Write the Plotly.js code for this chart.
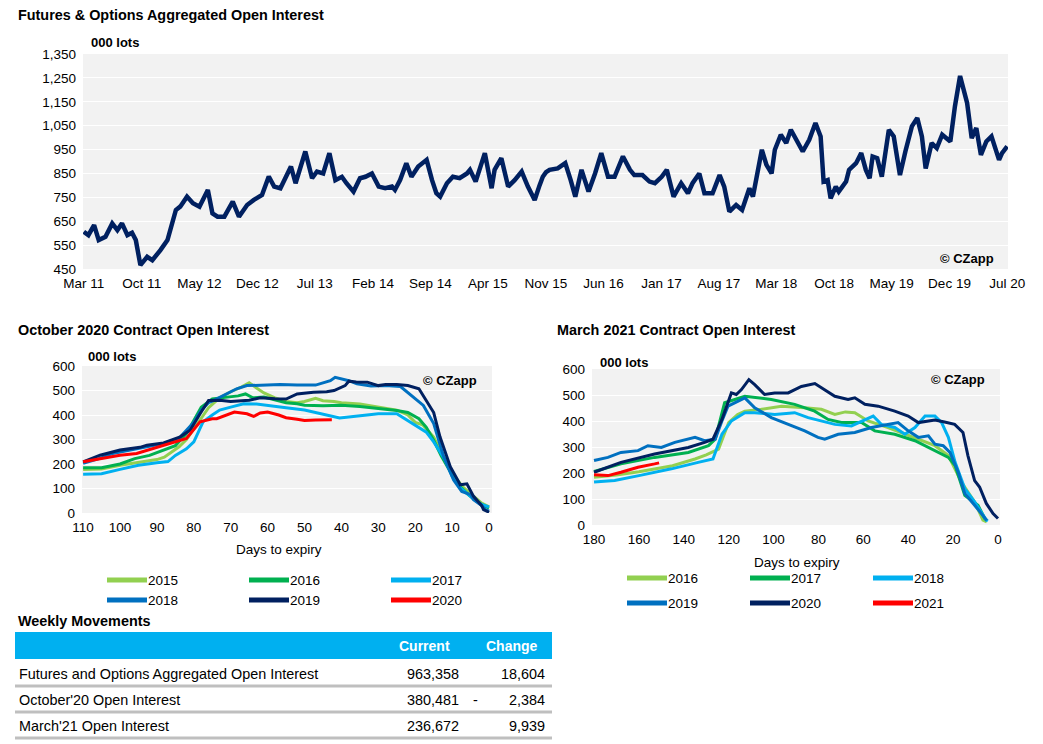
<!DOCTYPE html>
<html>
<head>
<meta charset="utf-8">
<script src="https://cdn.plot.ly/plotly-3.0.1.min.js"></script>
<style>
html,body{margin:0;padding:0;background:#fff;}
#chart{width:1043px;height:744px;}
</style>
</head>
<body>
<div id="chart"></div>
<script>
// ---------- DATA ----------
const topDates = ["2011-03-01","2011-03-18","2011-04-08","2011-04-25","2011-05-20","2011-06-14","2011-07-03","2011-07-20","2011-08-09","2011-08-26","2011-09-09","2011-09-26","2011-10-21","2011-11-09","2011-12-09","2012-01-04","2012-02-04","2012-02-20","2012-03-16","2012-04-07","2012-05-01","2012-06-01","2012-06-18","2012-07-07","2012-08-01","2012-09-01","2012-09-24","2012-10-24","2012-11-18","2012-12-18","2013-01-12","2013-02-01","2013-02-24","2013-04-04","2013-04-21","2013-05-27","2013-06-21","2013-07-09","2013-08-01","2013-08-24","2013-09-15","2013-10-09","2013-10-26","2013-11-21","2013-12-15","2014-01-04","2014-01-28","2014-02-22","2014-03-18","2014-04-12","2014-04-23","2014-05-12","2014-06-04","2014-06-23","2014-07-18","2014-08-18","2014-09-07","2014-09-23","2014-10-07","2014-11-01","2014-11-23","2014-12-18","2015-01-14","2015-01-25","2015-02-15","2015-03-04","2015-03-21","2015-04-15","2015-04-26","2015-05-21","2015-06-15","2015-07-09","2015-08-04","2015-08-27","2015-09-21","2015-10-09","2015-10-21","2015-11-02","2015-11-15","2015-12-15","2016-01-12","2016-02-01","2016-02-18","2016-03-12","2016-04-07","2016-05-01","2016-05-24","2016-06-18","2016-07-12","2016-08-12","2016-09-07","2016-09-23","2016-10-23","2016-11-18","2016-12-08","2017-01-02","2017-01-21","2017-02-15","2017-03-15","2017-04-09","2017-04-26","2017-05-21","2017-06-09","2017-07-09","2017-08-04","2017-08-21","2017-09-09","2017-10-04","2017-10-26","2017-11-22","2017-12-05","2018-01-07","2018-01-24","2018-02-12","2018-02-24","2018-03-18","2018-04-07","2018-04-24","2018-05-12","2018-06-07","2018-07-01","2018-07-24","2018-08-12","2018-08-23","2018-09-07","2018-09-18","2018-10-07","2018-10-18","2018-11-14","2018-11-25","2018-12-21","2019-01-09","2019-01-26","2019-02-09","2019-02-20","2019-03-09","2019-03-26","2019-04-21","2019-05-09","2019-06-01","2019-06-21","2019-07-15","2019-08-04","2019-08-21","2019-09-04","2019-09-26","2019-10-15","2019-11-04","2019-12-04","2019-12-21","2020-01-09","2020-02-04","2020-02-21","2020-03-09","2020-03-26","2020-04-15","2020-05-04","2020-06-01","2020-06-12","2020-07-01"];
const topValues = [606,592,634,571,585,641,613,641,592,602,571,466,501,487,529,571,697,711,753,725,711,781,683,669,669,732,669,718,739,760,837,795,788,879,809,942,830,858,850,935,822,836,809,774,830,836,850,795,788,795,781,822,893,836,879,907,822,767,753,809,836,830,850,865,816,879,935,788,865,914,795,822,858,795,739,800,836,855,865,871,893,822,753,865,774,850,935,836,836,921,865,843,843,816,809,836,865,753,809,767,809,850,767,767,843,795,690,718,697,788,753,949,886,850,949,1012,977,1033,998,942,991,1061,1005,816,822,746,795,774,816,865,893,935,865,830,921,914,836,1033,1005,843,942,1047,1082,1005,871,977,956,1012,984,1131,1258,1145,998,1040,928,984,1005,907,935,963];
const topTickDates = ["2011-03-01","2011-10-01","2012-05-01","2012-12-01","2013-07-01","2014-02-01","2014-09-01","2015-04-01","2015-11-01","2016-06-01","2017-01-01","2017-08-01","2018-03-01","2018-10-01","2019-05-01","2019-12-01","2020-07-01"];
const topTickLabels = ["Mar 11","Oct 11","May 12","Dec 12","Jul 13","Feb 14","Sep 14","Apr 15","Nov 15","Jun 16","Jan 17","Aug 17","Mar 18","Oct 18","May 19","Dec 19","Jul 20"];

// October 2020 contract (days to expiry)
const oct2015Days = [110,105,100,95,90,88,86,84,82,80,78,76,73,70,67,65,63,61,58,55,52,50,47,45,42,40,35,30,25,22,20,18,15,13,10,7,4,2,0];
const oct2015Vals = [178,180,195,208,218,228,250,270,300,345,390,430,470,495,515,532,510,490,470,455,450,455,468,458,455,450,445,432,420,400,370,360,310,250,160,105,65,40,25];
const oct2016Days = [110,105,100,96,92,88,85,82,80,78,75,72,68,66,64,61,58,55,52,50,45,40,35,30,25,22,19,17,15,13,10,8,6,4,2,0];
const oct2016Vals = [185,185,200,222,235,258,275,324,380,432,466,470,478,486,470,473,460,450,446,440,438,440,435,428,418,410,385,350,297,235,155,110,80,55,35,20];
const oct2017Days = [110,105,100,95,90,87,85,82,80,77.5,75,73,70,66.5,63,60,57,55,50,47.5,44,40.5,38,34,30,25,21.5,19,17,15,12,10,8,6,4,2,0];
const oct2017Vals = [158,160,178,195,205,210,235,262,290,372,400,420,432,446,445,440,432,430,420,412,400,388,392,400,405,405,372,350,330,290,220,150,105,80,55,35,25];
const oct2018Days = [110,105,102,98,95,92,88,84,80,78,76,74.7,71,68.4,65.6,60,56.6,52,47,43,41.7,38,35.8,32,28,24,20.5,17.8,15,12.3,9.6,7.4,5,4.2,2,1,0];
const oct2018Vals = [203,225,243,255,262,272,285,305,370,420,450,459,486,507,520,522,524,522,522,540,554,540,527,518,520,516,473,439,365,230,135,88,75,54,30,14,8];
const oct2019Days = [110,105.4,100,97,94.6,92.7,88.2,83.7,81,78.3,76,73,70,65,62,58,55,52,47.6,44,42,39,38,36,33,30,28,25,22,19,17,15,13.3,10.5,7.8,6,4.2,2,1.5,0];
const oct2019Vals = [209,236,257,262,268,277,286,311,338,405,459,460,455,460,470,466,465,486,493,495,500,520,538,535,534,520,525,524,520,507,459,410,311,189,115,119,68,30,14,3];
const oct2020Days = [110,105,100,95.5,92,88,85,82,78.3,75,73.8,71,69,65.6,63.8,62,60,57,55,52,50,47,44,42.6];
const oct2020Vals = [209,222,236,243,258,277,288,304,372,385,385,400,412,405,394,408,412,400,389,383,378,380,381,381];

// March 2021 contract (days to expiry)
const mar2016Days = [180,170,160,153,145,135,130,124.5,120,116,112.8,105.4,96.5,86.1,78.7,72.7,68,63.8,57.9,49,43,37,28.1,22.1,16.3,10.4,6.7,5];
const mar2016Vals = [184,192,205,216,228,254,270,292,394,425,438,445,457,451,445,425,435,432,400,375,355,337,305,267,165,89,19,12];
const mar2017Days = [180,168,153,138,129,126,121.8,117.4,112.8,101,90.6,81.7,75.7,69.8,60.8,54.9,46,37,29.6,22.1,19.1,14.8,8.9,5.9,5];
const mar2017Vals = [206,235,260,279,305,330,470,483,495,483,464,438,406,394,394,362,349,324,292,260,229,114,76,25,18];
const mar2018Days = [180,170.8,160,145.5,133.6,127,123,118.8,112.8,108.4,99.5,90.6,84.6,78.7,72.7,65.3,59.3,55.6,52,46,41.5,37,32.5,28.1,25.1,22.1,19.1,14.8,10.4,5.2,4.5];
const mar2018Vals = [165,171,190,216,241,254,349,400,432,432,425,432,413,400,387,381,406,419,387,375,349,375,419,419,394,337,241,140,89,19,15];
const mar2019Days = [180,173.8,168,160.4,156,150,144,135,130.7,126,123,120.3,112.8,108.4,101,93.5,86.1,80.2,77.2,71.2,63.8,56.4,52,44.5,40,35.5,31,28.1,24.4,21.4,17.7,14.8,10.4,5.9,5];
const mar2019Vals = [248,260,279,286,305,298,318,337,324,330,400,457,489,451,413,387,362,337,330,349,356,375,381,394,362,337,343,311,305,279,203,121,76,25,18];
const mar2020Days = [180,168,153,138,130.7,127,123,118.8,116.6,114.3,111,108.4,104,99.5,93.5,87.6,81.6,78.7,72.7,66.8,63.8,59.3,53.4,46,40,35.5,28.1,23.8,19.3,15.6,13.4,10.4,8.2,5.2,2.2,0];
const mar2020Vals = [203,241,273,298,318,330,406,508,502,521,559,540,502,508,508,533,544,527,495,483,489,464,457,438,419,394,404,396,387,356,267,171,146,83,44,25];
const mar2021Days = [180,173.8,168,160.4,153,151];
const mar2021Vals = [193,190,203,222,235,239];

const octLegend = ["2015","2016","2017","2018","2019","2020"];
const marLegend = ["2016","2017","2018","2019","2020","2021"];
const seriesColors = ["#92d050","#00b050","#00b0f0","#0070c0","#002060","#ff0000"];

// Weekly movements table
const tableRows = ["Futures and Options Aggregated Open Interest","October'20 Open Interest","March'21 Open Interest"];
const tableCurrent = ["963,358","380,481","236,672"];
const tableChange = ["18,604","-2,384","9,939"];

// ---------- LAYOUT HELPERS ----------
const W = 1043, H = 744;
const fx = p => p / W;
const fy = p => 1 - p / H;
const FONT = "Liberation Sans, Arial, sans-serif";

const traces = [];
traces.push({x: topDates, y: topValues, type: "scatter", mode: "lines", xaxis: "x", yaxis: "y",
  line: {color: "#002060", width: 4.5}, hoverinfo: "x+y"});

const octDays = [oct2015Days, oct2016Days, oct2017Days, oct2018Days, oct2019Days, oct2020Days];
const octVals = [oct2015Vals, oct2016Vals, oct2017Vals, oct2018Vals, oct2019Vals, oct2020Vals];
octDays.forEach((d, i) => traces.push({x: d, y: octVals[i], type: "scatter", mode: "lines",
  xaxis: "x2", yaxis: "y2", name: octLegend[i], line: {color: seriesColors[i], width: 3}}));

const marDays = [mar2016Days, mar2017Days, mar2018Days, mar2019Days, mar2020Days, mar2021Days];
const marVals = [mar2016Vals, mar2017Vals, mar2018Vals, mar2019Vals, mar2020Vals, mar2021Vals];
marDays.forEach((d, i) => traces.push({x: d, y: marVals[i], type: "scatter", mode: "lines",
  xaxis: "x3", yaxis: "y3", name: marLegend[i], line: {color: seriesColors[i], width: 3}}));

const tickFont = {family: FONT, size: 13.5, color: "#000"};
const baseY = {showgrid: true, gridcolor: "#ffffff", gridwidth: 1, zeroline: false, showline: false,
  ticks: "", tickfont: tickFont, ticklabelstandoff: 6, fixedrange: true};
const baseX = {showgrid: false, zeroline: false, showline: false, ticks: "", tickfont: tickFont,
  ticklabelstandoff: 4, fixedrange: true};

const annotations = [];
const shapes = [];
function txt(text, x, y, opts) {
  annotations.push(Object.assign({text: text, xref: "paper", yref: "paper", x: fx(x), y: fy(y),
    showarrow: false, xanchor: "left", yanchor: "middle",
    font: {family: FONT, size: 13, color: "#000"}}, opts || {}));
}
const titleFont = {family: FONT, size: 14.4, color: "#000"};
// titles
txt("<b>Futures & Options Aggregated Open Interest</b>", 16, 15, {font: titleFont});
txt("<b>October 2020 Contract Open Interest</b>", 16, 330, {font: titleFont});
txt("<b>March 2021 Contract Open Interest</b>", 555, 330, {font: titleFont});
txt("<b>Weekly Movements</b>", 16, 621, {font: titleFont});
// units
const unitFont = {family: FONT, size: 13, color: "#000"};
txt("<b>000 lots</b>", 89, 43, {font: unitFont});
txt("<b>000 lots</b>", 86, 356, {font: unitFont});
txt("<b>000 lots</b>", 598, 362, {font: unitFont});
// copyright
const cFont = {family: FONT, size: 13, color: "#000"};
txt("<b>© CZapp</b>", 996, 258, {xanchor: "right", font: cFont});
txt("<b>© CZapp</b>", 479, 380, {xanchor: "right", font: cFont});
txt("<b>© CZapp</b>", 987, 379, {xanchor: "right", font: cFont});
// axis titles
txt("Days to expiry", 279, 549, {xanchor: "center", font: {family: FONT, size: 13.5, color: "#000"}});
txt("Days to expiry", 797, 562, {xanchor: "center", font: {family: FONT, size: 13.5, color: "#000"}});

// legends
function legend(names, colStarts, rowYs, lineLen) {
  names.forEach((n, i) => {
    const c = i % 3, r = Math.floor(i / 3);
    const x0 = colStarts[c], y = rowYs[r];
    shapes.push({type: "line", xref: "paper", yref: "paper", x0: fx(x0), x1: fx(x0 + lineLen),
      y0: fy(y), y1: fy(y), line: {color: seriesColors[i], width: 5}});
    txt(n, x0 + lineLen - 1, y, {font: {family: FONT, size: 13.5, color: "#000"}});
  });
}
legend(octLegend, [107, 249, 391], [580, 600], 40);
legend(marLegend, [627, 750, 873], [578, 603], 40);

// table
shapes.push({type: "rect", xref: "paper", yref: "paper", x0: fx(15), x1: fx(552), y0: fy(632), y1: fy(659),
  fillcolor: "#00b0f0", line: {width: 0}, layer: "below"});
const hFont = {family: FONT, size: 14, color: "#fff"};
txt("<b>Current</b>", 424, 646, {xanchor: "center", font: hFont});
txt("<b>Change</b>", 512, 646, {xanchor: "center", font: hFont});
const rowY = [674, 700, 726];
const lineY = [686, 712, 738];
const rFont = {family: FONT, size: 14.4, color: "#000"};
tableRows.forEach((r, i) => {
  txt(r, 17, rowY[i], {font: rFont});
  txt(tableCurrent[i], 461, rowY[i], {xanchor: "right", font: rFont});
  const ch = tableChange[i];
  if (ch.charAt(0) === "-") {
    txt("-", 475, rowY[i], {xanchor: "center", font: rFont});
    txt(ch.slice(1), 547, rowY[i], {xanchor: "right", font: rFont});
  } else {
    txt(ch, 547, rowY[i], {xanchor: "right", font: rFont});
  }
  shapes.push({type: "line", xref: "paper", yref: "paper", x0: fx(15), x1: fx(552), y0: fy(lineY[i]), y1: fy(lineY[i]),
    line: {color: "#bfbfbf", width: 3}});
});

const topYTicks = [450,550,650,750,850,950,1050,1150,1250,1350];
const layout = {
  width: W, height: H,
  margin: {l: 0, r: 0, t: 0, b: 0},
  paper_bgcolor: "#ffffff", plot_bgcolor: "#f2f2f2",
  showlegend: false,
  font: {family: FONT, size: 13, color: "#000"},
  xaxis: Object.assign({}, baseX, {type: "date", domain: [fx(83), fx(1008)], anchor: "y",
    range: ["2011-02-26", "2020-07-04"], tickmode: "array", tickvals: topTickDates, ticktext: topTickLabels}),
  yaxis: Object.assign({}, baseY, {domain: [fy(269), fy(54)], anchor: "x", range: [450, 1350],
    tickmode: "array", tickvals: topYTicks, tickformat: ","}),
  xaxis2: Object.assign({}, baseX, {domain: [fx(82), fx(492)], anchor: "y2", range: [110.3, -0.8],
    tickmode: "linear", tick0: 0, dtick: 10}),
  yaxis2: Object.assign({}, baseY, {domain: [fy(513), fy(366)], anchor: "x2", range: [0, 600], dtick: 100}),
  xaxis3: Object.assign({}, baseX, {domain: [fx(592), fx(1000)], anchor: "y3", range: [180.9, -0.9],
    tickmode: "linear", tick0: 0, dtick: 20}),
  yaxis3: Object.assign({}, baseY, {domain: [fy(525), fy(369)], anchor: "x3", range: [0, 600], dtick: 100}),
  annotations: annotations,
  shapes: shapes
};
Plotly.newPlot("chart", traces, layout, {displayModeBar: false, staticPlot: true});
</script>
</body>
</html>
